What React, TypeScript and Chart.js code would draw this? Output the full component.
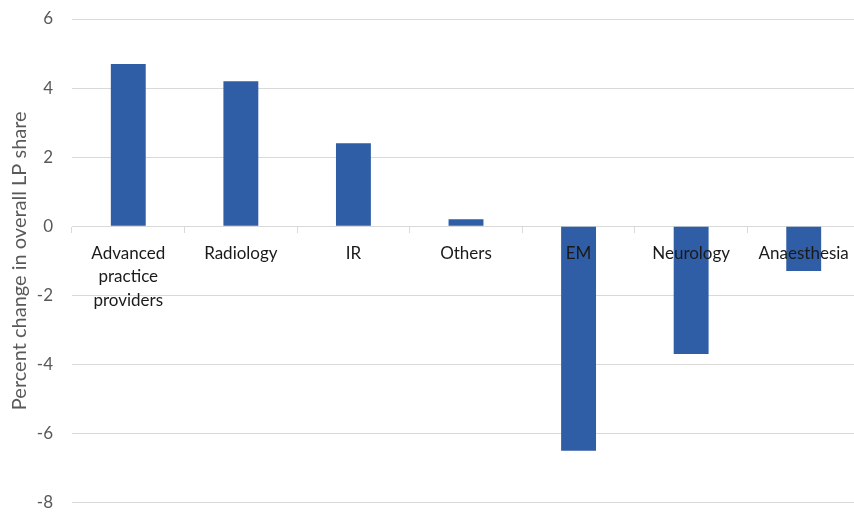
import React, { useEffect, useRef } from "react";
import { Chart, registerables } from "chart.js";

Chart.register(...registerables);

const categories: (string | string[])[] = [
  ["Advanced", "practice", "providers"],
  "Radiology",
  "IR",
  "Others",
  "EM",
  "Neurology",
  "Anaesthesia",
];
const changeValues = [4.7, 4.2, 2.4, 0.2, -6.5, -3.7, -1.3];
const yTicks = [-8, -6, -4, -2, 0, 2, 4, 6];
const yTitle = "Percent change in overall LP share";

export default function App() {
  const ref = useRef<HTMLCanvasElement>(null);
  useEffect(() => {
    document.body.style.margin = "0";
    document.body.style.overflow = "hidden";
    const ctx = ref.current!.getContext("2d")!;
    const chart = new Chart(ctx, {
      type: "bar",
      data: {
        labels: categories,
        datasets: [
          {
            data: changeValues,
            backgroundColor: "#2F5DA6",
            borderWidth: 0,
            categoryPercentage: 1,
            barPercentage: 0.31,
          },
        ],
      },
      options: {
        animation: false,
        responsive: false,
        maintainAspectRatio: false,
        layout: { padding: { top: 19, bottom: 9, left: 0, right: 2 } },
        plugins: { legend: { display: false }, tooltip: { enabled: false } },
        scales: {
          x: {
            position: { y: 0 },
            grid: {
              display: true,
              drawOnChartArea: false,
              drawTicks: true,
              tickLength: 6,
              color: "#d9d9d9",
              offset: true,
            },
            border: { display: true, color: "#d9d9d9", width: 1 },
            ticks: {
              z: 1,
              color: "#1a1a1a",
              font: { family: "Lato", size: 17, lineHeight: 1.4 },
              padding: 9,
              maxRotation: 0,
              autoSkip: false,
            },
          },
          y: {
            min: -8,
            max: 6,
            afterBuildTicks: (axis: any) => {
              axis.ticks = yTicks.map((v) => ({ value: v }));
            },
            afterFit: (axis: any) => {
              axis.width = 72;
            },
            grid: {
              color: "#d9d9d9",
              drawTicks: true,
              tickLength: 18,
              tickColor: "rgba(0,0,0,0)",
              lineWidth: 1,
            },
            border: { display: false },
            ticks: {
              color: "#595959",
              font: { family: "Lato", size: 17, lineHeight: 1 },
              padding: 1,
            },
            title: {
              display: true,
              text: yTitle,
              color: "#595959",
              font: { family: "Lato", size: 20 },
              padding: { top: 8, bottom: 2 },
            },
          },
        },
      },
    });
    return () => chart.destroy();
  }, []);
  return (
    <div style={{ width: 862, height: 512, overflow: "hidden" }}>
      <canvas ref={ref} width={862} height={512} style={{ display: "block" }} />
    </div>
  );
}
